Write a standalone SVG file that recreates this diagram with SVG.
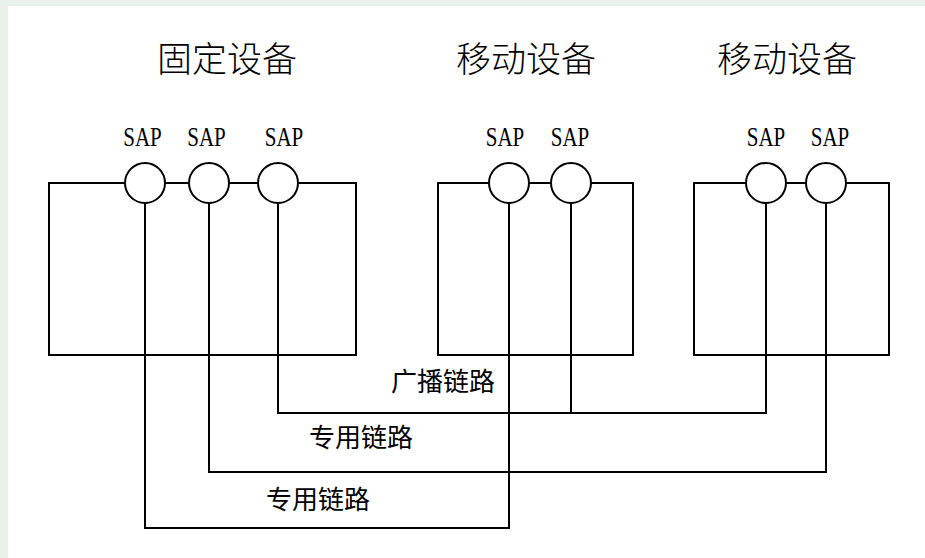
<svg xmlns="http://www.w3.org/2000/svg" width="925" height="558" viewBox="0 0 925 558">
<style>
.title { font-family: "Noto Sans CJK SC", "Noto Sans", sans-serif; font-size: 35px; font-weight: 300; fill: #000; text-anchor: middle; }
.lbl { font-family: "Noto Sans CJK SC", "Noto Sans", sans-serif; font-size: 26px; font-weight: 400; fill: #000; }
.sap { font-family: "Liberation Serif", "DejaVu Serif", serif; font-size: 21px; fill: #000; text-anchor: middle; }
.box { fill: none; stroke: #000; stroke-width: 2; }
.port { fill: #fff; stroke: #000; stroke-width: 2; }
.wire { fill: none; stroke: #000; stroke-width: 2; }
</style>
<rect x="0" y="0" width="925" height="558" fill="#e8f0e9"/>
<rect x="8" y="6" width="917" height="552" fill="#fff"/>

<g id="connectors">
  <path class="wire" d="M145,203 V528 H509 V203"/>
  <path class="wire" d="M209,203 V472 H826 V203"/>
  <path class="wire" d="M278,203 V413 H766 V203"/>
  <path class="wire" d="M571,203 V413"/>
  <text class="lbl" x="391" y="391">广播链路</text>
  <text class="lbl" x="309" y="447">专用链路</text>
  <text class="lbl" x="266" y="509">专用链路</text>
</g>

<g id="fixed-device">
  <text class="title" x="227" y="72">固定设备</text>
  <rect class="box" x="49" y="183" width="307" height="172"/>
  <circle class="port" cx="145" cy="183" r="20"/>
  <circle class="port" cx="209" cy="183" r="20"/>
  <circle class="port" cx="278" cy="183" r="20"/>
  <text class="sap" transform="translate(142.5,146) scale(1,1.25)">SAP</text>
  <text class="sap" transform="translate(206.5,146) scale(1,1.25)">SAP</text>
  <text class="sap" transform="translate(284,146) scale(1,1.25)">SAP</text>
</g>

<g id="mobile-device-1">
  <text class="title" x="526" y="72">移动设备</text>
  <rect class="box" x="438" y="183" width="195" height="172"/>
  <circle class="port" cx="509" cy="183" r="20"/>
  <circle class="port" cx="571" cy="183" r="20"/>
  <text class="sap" transform="translate(505,146) scale(1,1.25)">SAP</text>
  <text class="sap" transform="translate(570,146) scale(1,1.25)">SAP</text>
</g>

<g id="mobile-device-2">
  <text class="title" x="787" y="72">移动设备</text>
  <rect class="box" x="694" y="183" width="195" height="172"/>
  <circle class="port" cx="766" cy="183" r="20"/>
  <circle class="port" cx="826" cy="183" r="20"/>
  <text class="sap" transform="translate(766,146) scale(1,1.25)">SAP</text>
  <text class="sap" transform="translate(830,146) scale(1,1.25)">SAP</text>
</g>
</svg>
